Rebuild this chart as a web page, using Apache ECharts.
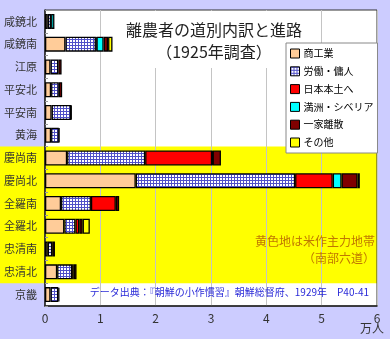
<!DOCTYPE html>
<html><head><meta charset="utf-8">
<script src="https://cdn.jsdelivr.net/npm/echarts@6/dist/echarts.min.js"></script>
<style>html,body{margin:0;padding:0;background:#ccccff;}#c{width:390px;height:339px;}</style>
</head><body><div id="c"></div>
<script>
const categories = ['咸鏡北','咸鏡南','江原','平安北','平安南','黄海','慶尚南','慶尚北','全羅南','全羅北','忠清南','忠清北','京畿'];
const seriesNames = ['商工業','労働・傭人','日本本土へ','満洲・シベリア','一家離散','その他'];
const shokogyo = [0.05, 0.37, 0.10, 0.11, 0.12, 0.11, 0.40, 1.64, 0.29, 0.35, 0.05, 0.22, 0.10];
const rodo     = [0.06, 0.55, 0.14, 0.14, 0.35, 0.14, 1.41, 2.88, 0.54, 0.20, 0.08, 0.27, 0.14];
const nihon    = [0,    0.01, 0,    0,    0,    0,    1.21, 0.68, 0.45, 0.07, 0,    0.03, 0];
const manshu   = [0.06, 0.13, 0,    0,    0,    0,    0.01, 0.16, 0,    0,    0,    0,    0];
const risan    = [0,    0.08, 0.06, 0.06, 0.01, 0.01, 0.15, 0.29, 0.06, 0.06, 0.05, 0.05, 0.02];
const sonota   = [0,    0.08, 0,    0,    0,    0,    0,    0.04, 0,    0.13, 0,    0,    0];
const xTicks = [0,1,2,3,4,5,6];
const yellowFrom = '慶尚南', yellowTo = '忠清北';

const pc = document.createElement('canvas'); pc.width = 3; pc.height = 3;
const pctx = pc.getContext('2d');
pctx.fillStyle = '#ffffff'; pctx.fillRect(0,0,3,3);
pctx.fillStyle = '#5050c8'; pctx.fillRect(0,0,3,1); pctx.fillRect(0,0,1,3);
const gridPattern = {image: pc, repeat: 'repeat'};

const colors = ['#ffcc99', gridPattern, '#ff0000', '#00ffff', '#800000', '#ffff00'];
const datas = [shokogyo, rodo, nihon, manshu, risan, sonota];
const FONT = '"Noto Sans CJK JP", sans-serif';

const chart = echarts.init(document.getElementById('c'), null, {renderer:'canvas'});
const option = {
  backgroundColor: '#ccccff',
  animation: false,
  textStyle: {fontFamily: FONT},
  title: {
    text: '離農者の道別内訳と進路\n（1925年調査）',
    left: 208, top: 11, textAlign: 'center', z: 6,
    backgroundColor: '#ffffff',
    padding: [8, 6, 5, 6],
    textStyle: {fontSize: 16, fontWeight: 'normal', color: '#222', lineHeight: 22, fontFamily: FONT}
  },
  legend: {
    orient: 'vertical', left: 286, top: 43, z: 20,
    backgroundColor: '#ffffff', borderColor: '#888', borderWidth: 1,
    padding: [3.5, 4, 3.5, 4],
    icon: 'rect', itemWidth: 9, itemHeight: 9, itemGap: 3.8,
    itemStyle: {borderColor: '#000', borderWidth: 1},
    textStyle: {fontSize: 10, color: '#000', lineHeight: 14, fontFamily: FONT, padding: [0, 0, 0, -1]},
    data: seriesNames
  },
  grid: {left: 45, right: 13, top: 10, bottom: 33, show: true, borderColor: '#333', borderWidth: 1, backgroundColor: 'transparent'},
  xAxis: {
    type: 'value', min: 0, max: 6, interval: 1,
    axisLine: {show: true, lineStyle: {color: '#222', width: 1.5}},
    axisTick: {show: false},
    axisLabel: {fontSize: 12, color: '#333', margin: 6, fontFamily: FONT, formatter: v => xTicks.includes(v) ? String(v) : ''},
    splitLine: {show: true, lineStyle: {color: '#c4c4c4', width: 1}}
  },
  yAxis: {
    type: 'category', data: categories, inverse: true,
    axisLine: {show: true, lineStyle: {color: '#222', width: 1.5}},
    axisTick: {show: true, inside: true, length: 3, lineStyle: {color: '#999'}},
    axisLabel: {fontSize: 11, color: '#333', margin: 8, fontFamily: FONT},
    splitLine: {show: false}
  },
  series: seriesNames.map((n, i) => ({
    name: n, type: 'bar', stack: 'all', barWidth: 15,
    itemStyle: {color: colors[i], borderColor: '#000', borderWidth: 1.3},
    data: datas[i].map(v => v === 0 ? '-' : v)
  }))
};
chart.setOption(option);

const px = v => chart.convertToPixel({xAxisIndex: 0}, v);
const py = c => chart.convertToPixel({yAxisIndex: 0}, c);
const band = Math.abs(py(categories[1]) - py(categories[0]));
const x0 = px(0), x6 = px(6);
const yTop = py(categories[0]) - band / 2;
const yBot = py(categories[categories.length - 1]) + band / 2;
const yy0 = py(yellowFrom) - band / 2, yy1 = py(yellowTo) + band / 2;
chart.setOption({
  graphic: [
    {type: 'rect', z: -10, silent: true, shape: {x: x0, y: yTop, width: x6 - x0, height: yBot - yTop}, style: {fill: '#ffffff'}},
    {type: 'rect', z: -9, silent: true, shape: {x: 0, y: yy0, width: x6, height: yy1 - yy0}, style: {fill: '#ffff00'}},
    {type: 'text', z: 10, style: {text: '黄色地は米作主力地帯', x: 375, y: 241, align: 'right', verticalAlign: 'middle', fill: '#c07800', fontSize: 12, fontFamily: FONT}},
    {type: 'text', z: 10, style: {text: '（南部六道）', x: 375, y: 258.5, align: 'right', verticalAlign: 'middle', fill: '#c07800', fontSize: 12, fontFamily: FONT}},
    {type: 'text', z: 10, style: {text: 'データ出典：『朝鮮の小作慣習』朝鮮総督府、1929年　P40-41', x: 369, y: 292.5, align: 'right', verticalAlign: 'middle', fill: '#2a2ad8', fontSize: 10, fontFamily: FONT}},
    {type: 'text', z: 10, style: {text: '万人', x: 372, y: 328.5, align: 'center', verticalAlign: 'middle', fill: '#333', fontSize: 12, fontFamily: FONT}}
  ]
});
</script></body></html>
